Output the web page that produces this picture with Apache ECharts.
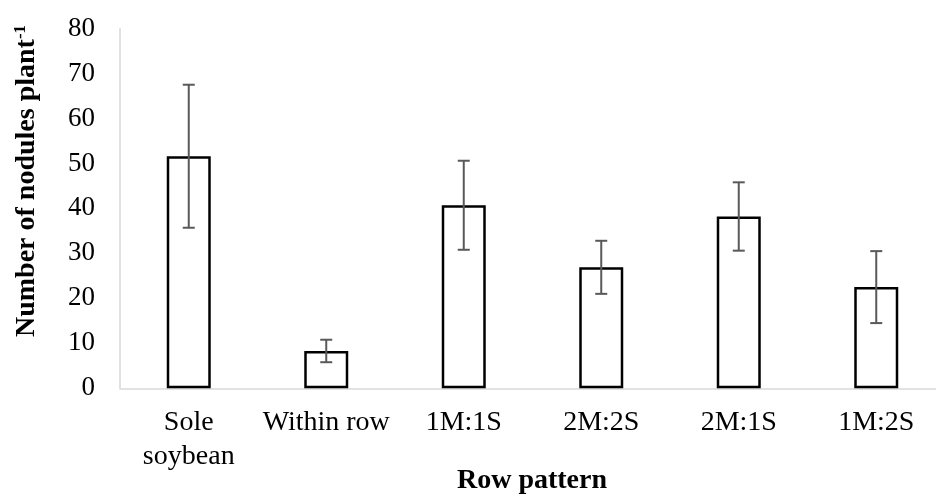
<!DOCTYPE html>
<html>
<head>
<meta charset="utf-8">
<script src="https://cdn.jsdelivr.net/npm/echarts@6/dist/echarts.min.js"></script>
<style>html,body{margin:0;padding:0;background:#fff}#c{width:936px;height:494px}</style>
</head>
<body>
<div id="c"></div>
<script>
var categories = ['Sole\nsoybean', 'Within row', '1M:1S', '2M:2S', '2M:1S', '1M:2S'];
var means = [51.6, 8.3, 40.7, 26.9, 38.2, 22.5];
var errors = [15.9, 2.5, 9.9, 5.9, 7.6, 8.0];
var yTicks = [0, 10, 20, 30, 40, 50, 60, 70, 80];
var xTitle = 'Row pattern';
var yTitle = 'Number of nodules plant';
var yTitleSup = '-1';

var FONT = '"Liberation Serif", "DejaVu Serif", serif';
var chart = echarts.init(document.getElementById('c'));
var errData = means.map(function (m, i) { return [i, m - errors[i], m + errors[i]]; });

chart.setOption({
  animation: false,
  backgroundColor: '#fff',
  grid: { left: 120, top: 28.5, width: 825, bottom: 105.7, containLabel: false, outerBoundsMode: 'none' },
  graphic: [{
    type: 'text',
    x: 27, y: 181,
    rotation: Math.PI / 2,
    style: {
      text: '{a|' + yTitle + '}{s|' + yTitleSup + '}',
      align: 'center', verticalAlign: 'middle',
      rich: {
        a: { fontFamily: FONT, fontWeight: 'bold', fontSize: 28, fill: '#000' },
        s: { fontFamily: FONT, fontWeight: 'bold', fontSize: 17, fill: '#000', verticalAlign: 'top', padding: [0, 0, 12, 0] }
      }
    }
  }, {
    type: 'text',
    x: 532, y: 481,
    style: {
      text: xTitle,
      align: 'center', verticalAlign: 'middle',
      fontFamily: FONT, fontWeight: 'bold', fontSize: 28, fill: '#000'
    }
  }],
  xAxis: {
    type: 'category',
    data: categories,
    axisLine: { lineStyle: { color: '#d9d9d9', width: 1.5 } },
    axisTick: { show: false },
    axisLabel: { fontFamily: FONT, fontSize: 28, color: '#000', margin: 17, lineHeight: 34, interval: 0 }
  },
  yAxis: {
    type: 'value',
    min: yTicks[0], max: yTicks[yTicks.length - 1], interval: 10,
    axisLine: { show: true, lineStyle: { color: '#d9d9d9', width: 1.5 } },
    axisTick: { show: false },
    splitLine: { show: false },
    axisLabel: { fontFamily: FONT, fontSize: 27, color: '#000', margin: 25 }
  },
  series: [
    {
      type: 'bar',
      data: means,
      barWidth: '32%',
      itemStyle: { color: '#fff', borderColor: '#000', borderWidth: 2.5 }
    },
    {
      type: 'custom',
      data: errData,
      z: 10,
      renderItem: function (params, api) {
        var x = api.value(0);
        var lo = api.coord([x, api.value(1)]);
        var hi = api.coord([x, api.value(2)]);
        var hw = 6;
        var style = { stroke: '#595959', lineWidth: 2 };
        return {
          type: 'group',
          children: [
            { type: 'line', shape: { x1: hi[0], y1: hi[1], x2: lo[0], y2: lo[1] }, style: style },
            { type: 'line', shape: { x1: hi[0] - hw, y1: hi[1], x2: hi[0] + hw, y2: hi[1] }, style: style },
            { type: 'line', shape: { x1: lo[0] - hw, y1: lo[1], x2: lo[0] + hw, y2: lo[1] }, style: style }
          ]
        };
      }
    }
  ]
});
</script>
</body>
</html>
